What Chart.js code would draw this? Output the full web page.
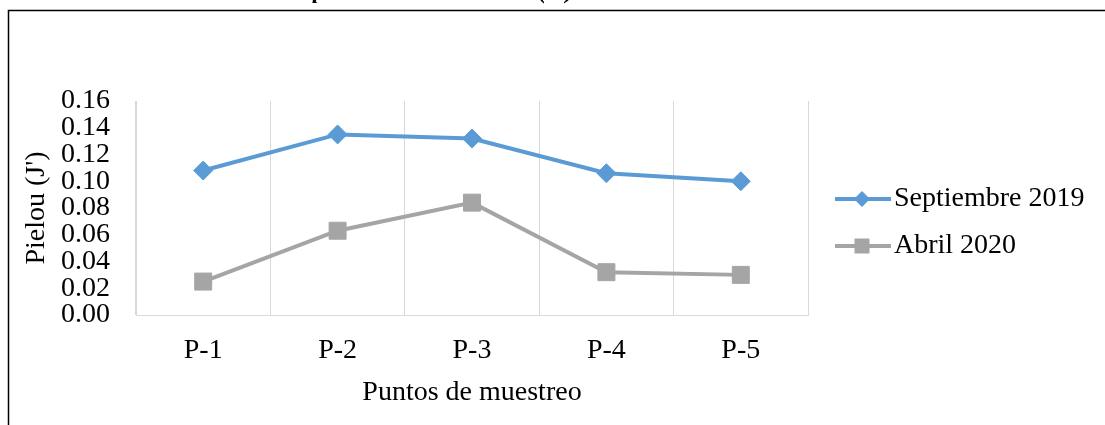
<!DOCTYPE html>
<html>
<head>
<meta charset="utf-8">
<script src="https://cdn.jsdelivr.net/npm/chart.js@4/dist/chart.umd.min.js"></script>
<style>
  html, body { margin: 0; padding: 0; background: #ffffff; }
  #wrap { width: 1105px; height: 425px; position: relative; }
  canvas { display: block; }
</style>
</head>
<body>
<div id="wrap"><canvas id="chart" width="1105" height="425"></canvas></div>
<script>
// Sampling points and Pielou evenness values per campaign
const categories = ['P-1', 'P-2', 'P-3', 'P-4', 'P-5'];
const septiembre2019 = [0.108, 0.135, 0.132, 0.106, 0.100];
const abril2020 = [0.025, 0.063, 0.084, 0.032, 0.030];
const seriesNames = ['Septiembre 2019', 'Abril 2020'];
const yMin = 0;
const yMax = 0.16;
const yStep = 0.02;
const yTitle = "Pielou (J')";
const xTitle = 'Puntos de muestreo';
const captionText = "Índice de equitatividad de Pielou (J')";

const FONT = "'Liberation Serif', 'Times New Roman', serif";
const BLUE = '#5B9BD5';
const GRAY = '#A5A5A5';

// Frame around the figure and the caption above it, which runs off the top edge
const framePlugin = {
  id: 'frame',
  afterDraw(chart) {
    const ctx = chart.ctx;
    ctx.save();
    ctx.font = 'bold italic 25px ' + FONT;
    ctx.fillStyle = '#000';
    ctx.textBaseline = 'alphabetic';
    ctx.textAlign = 'left';
    const before = ctx.measureText("Índice de equitatividad de Pielou ").width;
    ctx.fillText(captionText, 538 - before, -2);
    ctx.strokeStyle = '#000';
    ctx.lineWidth = 1.5;
    ctx.beginPath();
    ctx.moveTo(8.5, 425);
    ctx.lineTo(8.5, 10.5);
    ctx.lineTo(1105, 10.5);
    ctx.stroke();
    ctx.restore();
  }
};

// Legend on the right: line sample with its marker, then the series name
const lineLegendPlugin = {
  id: 'lineLegend',
  afterDraw(chart) {
    const ctx = chart.ctx;
    const rows = [199, 246];
    ctx.save();
    chart.data.datasets.forEach((ds, i) => {
      const y = rows[i];
      ctx.strokeStyle = ds.borderColor;
      ctx.lineWidth = ds.borderWidth;
      ctx.beginPath();
      ctx.moveTo(835, y);
      ctx.lineTo(891, y);
      ctx.stroke();
      ctx.fillStyle = ds.pointBackgroundColor;
      ctx.beginPath();
      if (ds.pointStyle === 'rectRot') {
        const r = 8;
        ctx.moveTo(862, y - r);
        ctx.lineTo(862 + r, y);
        ctx.lineTo(862, y + r);
        ctx.lineTo(862 - r, y);
        ctx.closePath();
      } else {
        ctx.rect(862 - 7.5, y - 7.5, 15, 15);
      }
      ctx.fill();
      ctx.fillStyle = '#000';
      ctx.font = '28px ' + FONT;
      ctx.textAlign = 'left';
      ctx.textBaseline = 'middle';
      ctx.fillText(ds.label, 894, y);
    });
    ctx.restore();
  }
};

new Chart(document.getElementById('chart'), {
  type: 'line',
  data: {
    labels: categories,
    datasets: [
      {
        label: seriesNames[0],
        data: septiembre2019,
        borderColor: BLUE,
        backgroundColor: BLUE,
        pointBackgroundColor: BLUE,
        pointBorderColor: BLUE,
        borderWidth: 4,
        pointStyle: 'rectRot',
        pointRadius: 9.5,
        pointBorderWidth: 1,
        tension: 0,
        fill: false
      },
      {
        label: seriesNames[1],
        data: abril2020,
        borderColor: GRAY,
        backgroundColor: GRAY,
        pointBackgroundColor: GRAY,
        pointBorderColor: GRAY,
        borderWidth: 4,
        pointStyle: 'rect',
        pointRadius: 12,
        pointBorderWidth: 1,
        tension: 0,
        fill: false
      }
    ]
  },
  options: {
    responsive: false,
    animation: false,
    layout: { padding: { top: 101, right: 297, bottom: 0, left: 0 } },
    plugins: {
      legend: { display: false },
      title: { display: false },
      tooltip: { enabled: false }
    },
    scales: {
      x: {
        type: 'category',
        offset: true,
        grid: { display: true, offset: true, color: '#D9D9D9', lineWidth: 1, drawTicks: false },
        border: { display: true, color: '#D9D9D9', width: 1 },
        ticks: { color: '#000', font: { family: FONT, size: 28 }, padding: 19, maxRotation: 0, autoSkip: false },
        title: { display: true, text: xTitle, color: '#000', font: { family: FONT, size: 28 }, padding: { top: 0, bottom: 16 } },
        afterFit(scale) { scale.height = 110; }
      },
      y: {
        min: yMin,
        max: yMax,
        grid: { display: false, drawTicks: false },
        border: { display: true, color: '#D9D9D9', width: 1 },
        ticks: {
          stepSize: yStep,
          autoSkip: false,
          color: '#000',
          font: { family: FONT, size: 28 },
          padding: 26,
          callback: (v) => Number(v).toFixed(2)
        },
        title: { display: true, text: yTitle, color: '#000', font: { family: FONT, size: 28 }, padding: { top: 20, bottom: 0 } },
        afterFit(scale) { scale.width = 136; }
      }
    }
  },
  plugins: [framePlugin, lineLegendPlugin]
});
</script>
</body>
</html>
